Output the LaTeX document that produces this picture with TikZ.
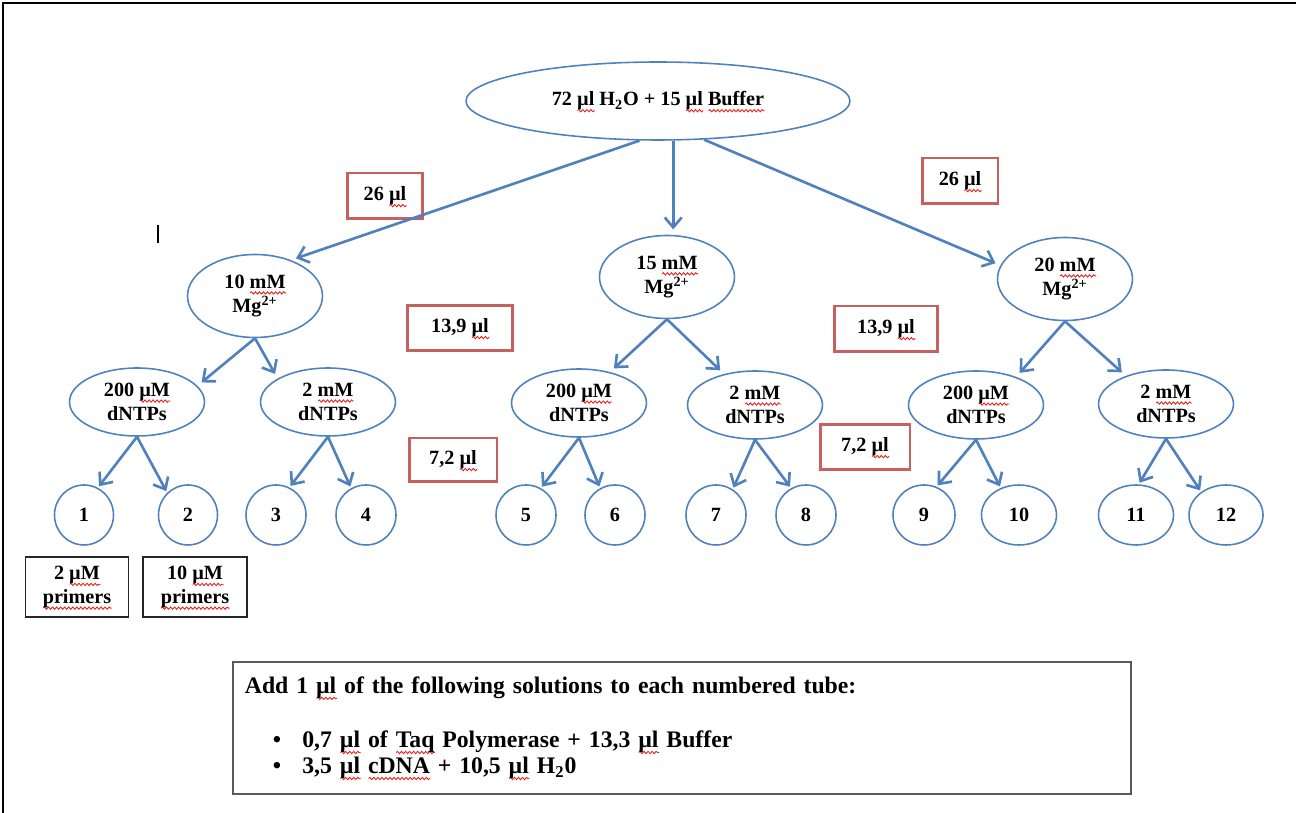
\documentclass[tikz,border=0pt]{standalone}
\usepackage{fontspec}
\setmainfont{Liberation Serif}
\usetikzlibrary{arrows.meta,shapes.geometric,decorations.pathmorphing}
\definecolor{lineblue}{HTML}{4F81BD}
\definecolor{boxred}{HTML}{C0504D}
\definecolor{sqred}{HTML}{E8201C}
% red wavy spell-check mark
\newsavebox\sqbox
\newlength\sqw
\newcommand\sq[1]{\sbox\sqbox{#1}\setlength\sqw{\wd\sqbox}%
  \rlap{\smash{\tikz[baseline=0pt]\draw[sqred,line width=0.5pt,decorate,
    decoration={snake,amplitude=0.65pt,segment length=2.3pt}] (0pt,-2.7pt) -- (\sqw,-2.7pt);}}%
  \usebox\sqbox}
\begin{document}
\begin{tikzpicture}[x=0.02cm,y=-0.02cm,font=\bfseries\fontsize{11.5}{12.5}\selectfont,
  blob/.style={ellipse,draw=lineblue,line width=0.9pt,inner sep=0pt,align=center},
  tube/.style={blob,minimum height=1.2cm},
  vol/.style={draw=boxred!90,line width=1.7pt,inner sep=0pt},
  prim/.style={draw=black!85,line width=1pt,inner sep=0pt,align=center,
    minimum width=2.06cm,minimum height=1.2cm},
  feed/.style={draw=lineblue,line width=1.5pt,shorten >=3pt,
    -{Straight Barb[length=2mm,width=3.4mm]}}]
  \useasboundingbox (0,0) rectangle (1296,813);
  \draw[line width=1.4pt] (3,813) -- (3,3) -- (1296,3);
  \draw[line width=0.6pt] (158,225) -- (158,243);

  \node[blob,minimum width=7.68cm,minimum height=1.56cm] (top) at (658,101)
    {72 \sq{µl} H\textsubscript{2}O + 15 \sq{µl} \sq{Buffer}};

  \foreach \n/\x/\y/\c in {m10/255/296/10, m15/667/277/15, m20/1065/279/20}
    \node[blob,minimum width=2.7cm,minimum height=1.66cm] (\n) at (\x,\y)
      {\c\ \sq{mM}\\[1.5pt]Mg\textsuperscript{2+}};

  \foreach \n/\x/\y/\c/\u in {d1/137/402/200/µM, d2/328/402/2/mM,
    d3/579/403/200/µM, d4/755/405/2/mM, d5/976/405/200/µM, d6/1166/404/2/mM}
    \node[blob,minimum width=2.7cm,minimum height=1.36cm] (\n) at (\x,\y)
      {\c\ \sq{\u}\\[1.5pt]dNTPs};

  \foreach \i/\x/\w in {1/84/1.18, 2/188/1.18, 3/276/1.2, 4/366/1.2,
    5/526/1.2, 6/615/1.2, 7/716/1.2, 8/806/1.2, 9/924/1.24, 10/1019/1.5,
    11/1136/1.5, 12/1226/1.48}
    \node[tube,minimum width=\w cm] (t\i) at (\x,515) {\i};

  \foreach \n/\x/\y/\w/\h/\v in {v1/385/196/1.5/0.92/26, v2/960/181/1.52/0.92/26,
    v3/460/328/2.1/0.9/{13,9}, v4/886/329/2.06/0.92/{13,9},
    v5/453/460/1.76/0.88/{7,2}, v6/865/447/1.8/0.9/{7,2}}
    \node[vol,minimum width=\w cm,minimum height=\h cm] (\n) at (\x,\y) {\v\ \sq{µl}};

  \node[prim] (p1) at (77,587) {2 \sq{µM}\\[1pt]\sq{primers}};
  \node[prim,minimum width=2.08cm] (p2) at (195,587) {10 \sq{µM}\\[1pt]\sq{primers}};

  \node[draw=black!65,line width=1pt,anchor=north west,minimum width=17.96cm,
    minimum height=2.64cm,text width=17.48cm,inner xsep=0.24cm,align=left,
    font=\bfseries\fontsize{13.5}{14.8}\selectfont] (note) at (232,661)
    {Add 1 \sq{µl} of the following solutions to each numbered tube:\\[16pt]
     \hspace*{16pt}\textbullet\hspace{12pt}0,7 \sq{µl} of \sq{Taq} Polymerase + 13,3 \sq{µl} Buffer\\
     \hspace*{16pt}\textbullet\hspace{12pt}3,5 \sq{µl} \sq{cDNA} + 10,5 \sq{µl} H\textsubscript{2}0};

  % arrows
  \draw[feed] (top.-115) -- (m10.45);
  \draw[feed] (top.-69) -- (top.-69 |- m15.north);
  \draw[feed] (top.-40) -- (m20.168);
  \foreach \p/\a/\s/\b/\r in {m10/d1/15/d2/155, m15/d3/45/d4/135, m20/d5/35/d6/145} {
    \draw[feed] (\p.south) -- (\a.\s);
    \draw[feed] (\p.south) -- (\b.\r);
  }
  \foreach \p/\a/\s/\b/\r in {d1/t1/63/t2/133, d2/t3/64/t4/119, d3/t5/61/t6/119,
    d4/t7/57/t8/119, d5/t9/66/t10/124, d6/t11/85/t12/137} {
    \draw[feed,shorten >=1pt] (\p.south) -- (\a.\s);
    \draw[feed,shorten >=1pt] (\p.south) -- (\b.\r);
  }
\end{tikzpicture}
\end{document}
